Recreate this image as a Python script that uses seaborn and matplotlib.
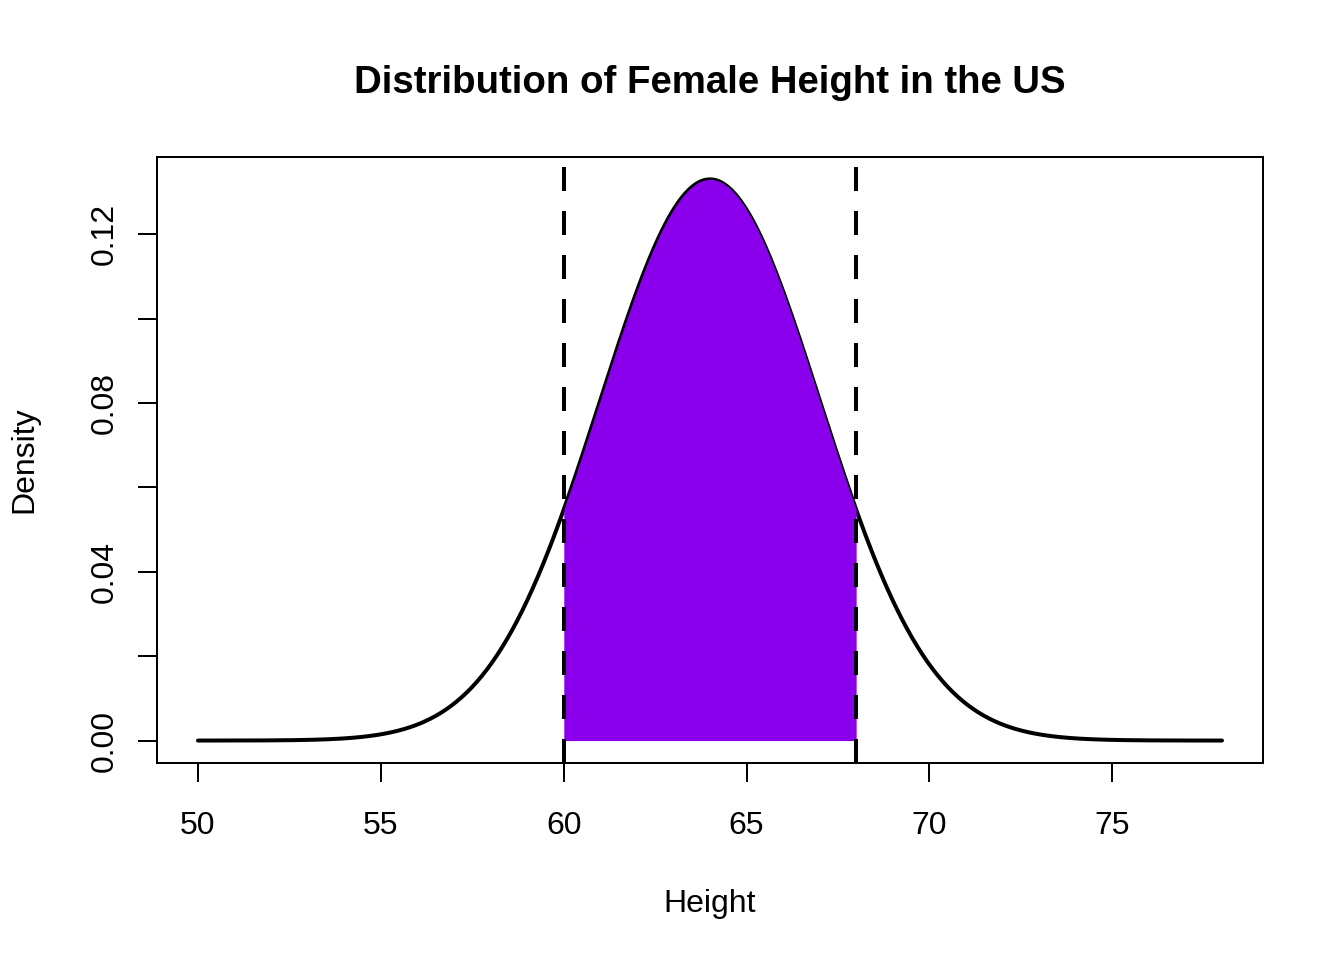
import numpy as np
import pandas as pd
import matplotlib
matplotlib.use("Agg")
import matplotlib.pyplot as plt
import seaborn as sns

# Female height in the US, modelled as normal
height_mean = 64
height_sd = 3
x_range = [50, 78]
shade_range = [60, 68]

title = "Distribution of Female Height in the US"
x_label = "Height"
y_label = "Density"
x_ticks = [50, 55, 60, 65, 70, 75]
y_ticks = [0.00, 0.02, 0.04, 0.06, 0.08, 0.10, 0.12]
y_ticklabels = ["0.00", "", "0.04", "", "0.08", "", "0.12"]


def dnorm(x, mu, sd):
    return np.exp(-0.5 * ((x - mu) / sd) ** 2) / (sd * np.sqrt(2 * np.pi))


def main():
    sns.set_style("ticks")
    plt.rcParams["font.family"] = ["Liberation Sans", "DejaVu Sans"]
    plt.rcParams["text.color"] = "black"
    plt.rcParams["axes.labelcolor"] = "black"
    plt.rcParams["xtick.color"] = "black"
    plt.rcParams["ytick.color"] = "black"

    xs = np.linspace(x_range[0], x_range[1], 600)
    df = pd.DataFrame({"Height": xs, "Density": dnorm(xs, height_mean, height_sd)})
    shade = df[(df.Height >= shade_range[0]) & (df.Height <= shade_range[1])]

    fig = plt.figure(figsize=(7, 5), dpi=192)
    ax = fig.add_axes([0.1168, 0.2052, 0.8229, 0.6313])

    sns.lineplot(data=df, x="Height", y="Density", color="black", lw=1.5, ax=ax)
    ax.fill_between(shade.Height, 0, shade.Density, color="#8A00EC", lw=0, zorder=3)
    for v in shade_range:
        ax.axvline(v, color="black", lw=1.5, linestyle=(0, (6, 5)), zorder=4)

    pad_x = 0.04 * (x_range[1] - x_range[0])
    ymax = df.Density.max()
    ax.set_xlim(x_range[0] - pad_x, x_range[1] + pad_x)
    ax.set_ylim(-0.04 * ymax, ymax * 1.04)

    ax.set_xticks(x_ticks)
    ax.set_yticks(y_ticks)
    ax.set_yticklabels(y_ticklabels, rotation=90, va="center")
    ax.tick_params(axis="both", direction="out", length=7, width=0.75,
                   labelsize=12, color="black", labelcolor="black")
    ax.tick_params(axis="x", pad=11)
    ax.tick_params(axis="y", pad=7)
    for s in ax.spines.values():
        s.set_visible(True)
        s.set_linewidth(0.75)
        s.set_color("black")

    ax.set_xlabel(x_label, fontsize=12, labelpad=18)
    ax.set_ylabel(y_label, fontsize=12, labelpad=19)
    ax.set_title(title, fontsize=14.4, fontweight="bold", pad=24, color="black")

    fig.savefig("out.png", dpi=192, facecolor="white")


if __name__ == "__main__":
    main()
